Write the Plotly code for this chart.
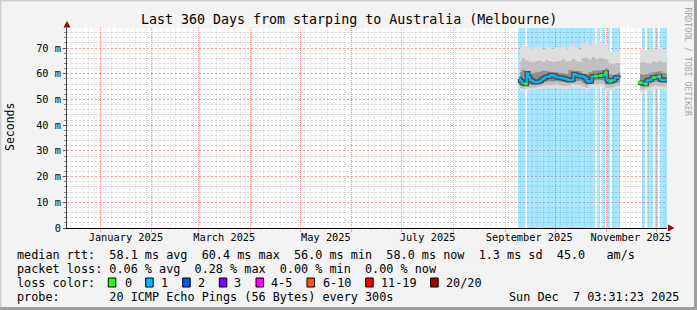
import plotly.graph_objects as go
from datetime import datetime, timedelta

# ---------------- data ----------------
T_START = "2024-12-12 03:31:23"
T_END = "2025-12-07 03:31:23"
Y_MAX = 77.8  # ms, top of value axis

# median rtt (ms), one value per day
blk1_start = "2025-09-09"
median1 = [58.0, 57.2, 56.4, 56.2, 56.0, 60.2, 58.6, 57.6, 57.2, 56.8,
           56.7, 56.8, 57.0, 57.3, 57.9, 58.3, 58.6, 58.8, 58.9, 59.5,
           59.4, 59.3, 58.8, 58.6, 58.4, 58.5, 58.3, 58.2, 58.0, 57.8,
           57.6, 57.5, 57.7, 59.9, 59.6, 59.3, 59.2, 58.9, 59.0, 58.7,
           58.3, 57.2, 56.9, 57.1, 58.9, 59.0, 59.1, 59.0, 59.1, 59.3,
           59.5, 59.4, 60.4, 57.6, 57.0, 57.2, 57.4, 57.6, 58.5, 58.5, 58.4]
loss1 = [1, 1, 1, 1, 0, 1, 1, 1, 1, 1,
         1, 1, 1, 1, 1, 1, 1, 1, 1, 1,
         1, 1, 1, 1, 1, 1, 1, 1, 1, 1,
         1, 1, 1, 1, 1, 1, 1, 1, 1, 1,
         1, 1, 1, 1, 1, 1, 0, 1, 1, 0,
         1, 1, 0, 1, 1, 0, 1, 1, 1, 1, 1]
blk2_start = "2025-11-20"
median2 = [56.6, 56.5, 56.4, 56.2, 56.0, 57.4, 57.6, 57.7, 58.4, 58.5,
           58.6, 58.8, 58.9, 57.8, 57.6, 57.6, 57.7, 57.6]
loss2 = [0, 0, 1, 1, 0, 1, 1, 1, 1, 0,
         1, 1, 0, 1, 1, 1, 1, 1]

# smoke percentiles (ms), one value per two days
smoke1_start = "2025-09-09"
hi1 = [70.0, 71.8, 70.5, 70.0, 69.8, 70.6, 70.2, 69.5, 70.8, 70.4,
       69.6, 70.0, 70.3, 71.0, 69.8, 70.5, 71.5, 70.2, 69.5, 72.0,
       72.5, 71.0, 73.0, 71.5, 72.8, 71.8, 71.5, 68.5, 68.2, 68.8, 68.4]
up2_1 = [65.0, 66.0, 65.2, 64.8, 64.5, 65.0, 65.2, 64.6, 65.4, 65.0,
         64.6, 64.8, 65.0, 65.6, 64.8, 65.0, 65.8, 65.0, 64.6, 66.0,
         66.2, 65.5, 66.5, 65.6, 66.2, 65.8, 65.5, 64.0, 63.8, 64.2, 64.0]
up1_1 = [60.6, 61.5, 60.4, 60.0, 60.2, 60.6, 60.8, 61.2, 61.0, 60.8,
         60.6, 60.6, 60.4, 60.2, 60.0, 61.5, 61.2, 61.0, 61.0, 60.2,
         59.8, 60.6, 61.2, 61.4, 61.4, 61.5, 62.0, 59.8, 59.6, 60.0, 60.5]
lo1_1 = [55.8, 55.4, 56.2, 55.8, 55.7, 55.9, 56.4, 56.8, 57.0, 57.1,
         57.0, 57.2, 57.0, 56.8, 56.6, 56.9, 57.6, 57.2, 57.3, 56.4,
         55.9, 57.0, 57.4, 57.5, 57.6, 57.4, 55.8, 55.8, 56.0, 56.6, 56.7]
lo2_1 = [54.4, 54.2, 54.8, 54.6, 54.6, 54.8, 55.0, 55.4, 55.6, 55.6,
         55.5, 55.7, 55.5, 55.3, 55.2, 55.4, 56.0, 55.6, 55.6, 55.0,
         54.6, 55.4, 55.8, 55.8, 56.0, 55.8, 54.6, 54.6, 54.8, 55.2, 55.3]
lo1 = [53.0, 53.2, 53.8, 53.8, 53.8, 53.9, 54.0, 54.2, 54.4, 54.4,
       54.3, 54.4, 54.3, 54.2, 54.0, 54.2, 54.6, 54.4, 54.4, 54.0,
       53.6, 54.2, 54.6, 54.6, 54.8, 54.6, 53.6, 53.6, 53.8, 54.2, 54.2]
smoke2_start = "2025-11-20"
hi2 = [69.5, 69.8, 69.2, 69.0, 70.0, 69.6, 70.2, 69.4, 69.5]
up2_2 = [64.5, 64.6, 64.2, 64.0, 64.8, 64.6, 65.0, 64.4, 64.4]
up1_2 = [59.8, 59.6, 59.8, 60.2, 60.6, 60.8, 61.0, 60.4, 60.2]
lo1_2 = [55.2, 55.0, 55.6, 56.2, 56.8, 57.0, 56.8, 56.4, 56.4]
lo2_2 = [53.8, 53.6, 54.4, 54.8, 55.2, 55.4, 55.2, 55.0, 55.0]
lo2 = [52.6, 52.6, 53.2, 53.6, 54.0, 54.2, 54.0, 53.8, 53.8]

y_ticks = [0, 10, 20, 30, 40, 50, 60, 70]
y_tick_text = ["0", "10 m", "20 m", "30 m", "40 m", "50 m", "60 m", "70 m"]
x_label_dates = ["2025-01-16 12:00", "2025-03-16 12:00", "2025-05-16 12:00",
                 "2025-07-16 12:00", "2025-09-15 12:00", "2025-11-15 12:00"]
x_label_text = ["January 2025", "March 2025", "May 2025", "July 2025",
                "September 2025", "November 2025"]

title_text = "Last 360 Days from starping to Australia (Melbourne)"
legend_rows = [
    "median rtt:  58.1 ms avg  60.4 ms max  56.0 ms min  58.0 ms now  1.3 ms sd  45.0   am/s",
    "packet loss: 0.06 % avg  0.28 % max  0.00 % min  0.00 % now",
    "loss color:",
    "probe:       20 ICMP Echo Pings (56 Bytes) every 300s",
]
date_text = "Sun Dec  7 03:31:23 2025"
loss_labels = ["0", "1", "2", "3", "4-5", "6-10", "11-19", "20/20"]
loss_colors = ["#26ff00", "#00b8ff", "#0059ff", "#7e00ff", "#ff00ff",
               "#ff5500", "#ff0000", "#a10000"]

# ---------------- helpers ----------------
W, H = 697, 310
L, R, T, B = 67, 667, 28, 228
MONO = "DejaVu Sans Mono"


def px(x):
    return (x - L) / (R - L)


def py(y):
    return (B - y) / (B - T)


def days(start, n, step=1):
    d0 = datetime.fromisoformat(start) + timedelta(hours=12 * step)
    return [d0 + timedelta(days=step * i) for i in range(n)]


def nbsp(s):
    return s.replace(" ", "\u00a0")


fig = go.Figure()

# loss background columns
for start, loss in ((blk1_start, loss1), (blk2_start, loss2)):
    xs = days(start, len(loss))
    bx = [x for x, l in zip(xs, loss) if l > 0]
    fig.add_trace(go.Bar(x=bx, y=[Y_MAX] * len(bx), width=86400000 * 1.0,
                         marker=dict(color="rgba(0,184,255,0.34)", line=dict(width=0)),
                         hoverinfo="skip", showlegend=False))

# smoke bands
band_colors = ["#dedede", "#c0c0c0", "#8e8e8e"]
for start, hi, u2, u1, l1, l2, lo in ((smoke1_start, hi1, up2_1, up1_1, lo1_1, lo2_1, lo1),
                                       (smoke2_start, hi2, up2_2, up1_2, lo1_2, lo2_2, lo2)):
    xs = days(start, len(hi), 2)
    for (top, bot), col in zip(((hi, lo), (u2, l2), (u1, l1)), band_colors):
        fig.add_trace(go.Scatter(x=xs, y=bot, mode="lines", line=dict(width=0, shape="hvh"),
                                 hoverinfo="skip", showlegend=False))
        fig.add_trace(go.Scatter(x=xs, y=top, mode="lines", line=dict(width=0, shape="hvh"),
                                 fill="tonexty", fillcolor=col, hoverinfo="skip", showlegend=False))

# median lines
for start, med, loss in ((blk1_start, median1, loss1), (blk2_start, median2, loss2)):
    xs = days(start, len(med))
    fig.add_trace(go.Scatter(x=xs, y=med, mode="lines",
                             line=dict(color="#4a4a4a", width=4.5, shape="hvh"),
                             hoverinfo="skip", showlegend=False))
    fig.add_trace(go.Scatter(x=xs, y=med, mode="lines",
                             line=dict(color="#00b8ff", width=2, shape="hvh"),
                             hoverinfo="skip", showlegend=False))
    gx = [x for x, l in zip(xs, loss) if l == 0]
    gy = [m for m, l in zip(med, loss) if l == 0]
    fig.add_trace(go.Scatter(x=gx, y=gy, mode="markers",
                             marker=dict(color=loss_colors[0], size=3, symbol="square",
                                         line=dict(width=0)),
                             hoverinfo="skip", showlegend=False))

# invisible trace for label axis
fig.add_trace(go.Scatter(x=[T_START, T_END], y=[0, 0], xaxis="x2", mode="none",
                         hoverinfo="skip", showlegend=False))

grid_minor_x = "rgba(185,185,185,0.45)"
grid_minor_y = "rgba(185,185,185,0.6)"
grid_major = "rgba(255,110,110,0.7)"
XDASH = "1px,1px"
YDASH = "2px,2px"
y_minor_vals = [v for v in range(2, 78, 2) if v % 10 != 0]

fig.update_layout(
    width=W, height=H,
    margin=dict(l=L, r=W - R, t=T, b=H - B, pad=0),
    paper_bgcolor="#f3f3f3",
    plot_bgcolor="#ffffff",
    bargap=0,
    barmode="overlay",
    font=dict(family=MONO, size=10.3, color="#000000"),
    xaxis=dict(
        type="date", range=[T_START, T_END], showticklabels=False,
        tick0="2025-01-01", dtick="M1",
        showgrid=True, gridcolor=grid_major, griddash=XDASH, gridwidth=1,
        ticks="outside", ticklen=3, tickcolor=grid_major,
        minor=dict(tick0="2024-12-14 13:00", dtick=3.5 * 86400000, showgrid=True,
                   gridcolor=grid_minor_x, griddash=XDASH, gridwidth=1, ticks=""),
        showline=True, linecolor="#000000", linewidth=1,
        zeroline=False, fixedrange=True,
    ),
    xaxis2=dict(
        type="date", range=[T_START, T_END], overlaying="x",
        tickmode="array", tickvals=x_label_dates, ticktext=x_label_text,
        showgrid=False, ticks="", showline=False, zeroline=False,
        tickfont=dict(family=MONO, size=10.3, color="#000000"),
        side="bottom", ticklabelstandoff=2,
    ),
    yaxis=dict(
        range=[0, Y_MAX], tickmode="array", tickvals=y_ticks, ticktext=y_tick_text,
        showgrid=True, gridcolor=grid_major, griddash=YDASH, gridwidth=1,
        ticks="outside", ticklen=3, tickcolor="#555555",
        minor=dict(tickmode="array", tickvals=y_minor_vals, showgrid=True,
                   gridcolor=grid_minor_y, griddash=YDASH,
                   gridwidth=1, ticks="outside", ticklen=2, tickcolor="#888888"),
        showline=True, linecolor="#444444", linewidth=1,
        zeroline=False, fixedrange=True,
        tickfont=dict(family=MONO, size=10.3, color="#000000"),
    ),
)

ann = []
ann.append(dict(text=title_text, x=px(348.5), y=py(19), xref="paper", yref="paper",
                xanchor="center", yanchor="middle", showarrow=False,
                font=dict(family=MONO, size=13.3, color="#000000")))
ann.append(dict(text="Seconds", x=px(10), y=py(127), xref="paper", yref="paper",
                xanchor="center", yanchor="middle", showarrow=False, textangle=-90,
                font=dict(family=MONO, size=11.5, color="#000000")))
ann.append(dict(text="RRDTOOL / TOBI OETIKER", x=px(688), y=py(5), xref="paper", yref="paper",
                xanchor="center", yanchor="top", showarrow=False, textangle=90,
                font=dict(family=MONO, size=8.2, color="#a8a8a8")))
row_y = [254.5, 268.5, 282.5, 296.5]
for txt, yy in zip(legend_rows, row_y):
    ann.append(dict(text=nbsp(txt), x=px(14.5), y=py(yy), xref="paper", yref="paper",
                    xanchor="left", yanchor="middle", showarrow=False,
                    font=dict(family=MONO, size=11.8, color="#000000")))
ann.append(dict(text=nbsp(date_text), x=px(681), y=py(row_y[3]), xref="paper", yref="paper",
                xanchor="right", yanchor="middle", showarrow=False,
                font=dict(family=MONO, size=11.8, color="#000000")))
box_x = [108.3, 145.7, 182.7, 219.3, 256, 307, 365.7, 430.7]
lab_x = [123.7, 160, 197, 233, 270, 322, 380, 445]
shapes = []
for lab, col, bxp, lxp in zip(loss_labels, loss_colors, box_x, lab_x):
    shapes.append(dict(type="rect", xref="paper", yref="paper",
                       x0=px(bxp), x1=px(bxp + 7.5), y0=py(row_y[2] + 4.5), y1=py(row_y[2] - 4.5),
                       fillcolor=col, line=dict(color="#000000", width=1)))
    ann.append(dict(text=lab, x=px(lxp - 1), y=py(row_y[2]), xref="paper", yref="paper",
                    xanchor="left", yanchor="middle", showarrow=False,
                    font=dict(family=MONO, size=11.8, color="#000000")))


def tri(pts):
    p = " L ".join(f"{px(a):.5f},{py(b):.5f}" for a, b in pts)
    return "M " + p + " Z"


# axis arrows
shapes.append(dict(type="path", xref="paper", yref="paper",
                   path=tri([(63.5, 27.5), (70.5, 27.5), (67, 21)]),
                   fillcolor="#a00000", line=dict(width=0)))
shapes.append(dict(type="path", xref="paper", yref="paper",
                   path=tri([(668, 224.5), (668, 231.5), (674.5, 228)]),
                   fillcolor="#a00000", line=dict(width=0)))

# 3D image frame
shapes += [
    dict(type="line", xref="paper", yref="paper", x0=px(0), x1=px(697), y0=py(0.5), y1=py(0.5),
         line=dict(color="#cfcfcf", width=2)),
    dict(type="line", xref="paper", yref="paper", x0=px(0.5), x1=px(0.5), y0=py(0), y1=py(310),
         line=dict(color="#cfcfcf", width=2)),
    dict(type="line", xref="paper", yref="paper", x0=px(0), x1=px(697), y0=py(308.5), y1=py(308.5),
         line=dict(color="#9e9e9e", width=3)),
    dict(type="line", xref="paper", yref="paper", x0=px(695.5), x1=px(695.5), y0=py(0), y1=py(310),
         line=dict(color="#9e9e9e", width=3)),
]
fig.update_layout(annotations=ann, shapes=shapes)

fig.write_html("out.html")
